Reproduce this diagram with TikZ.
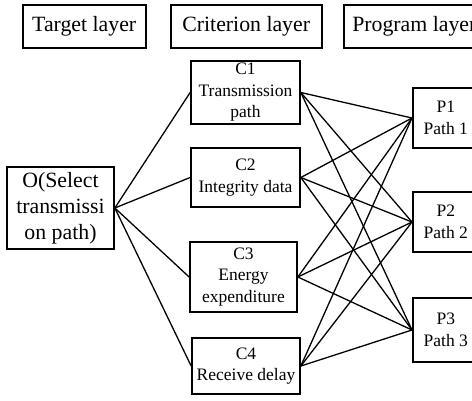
\documentclass[tikz,border=0pt]{standalone}
\usepackage{fontspec}
\setmainfont{Liberation Serif}
\begin{document}
\begin{tikzpicture}[x=1pt,y=-1pt,
  box/.style={draw,line width=1.7pt,rectangle,inner sep=0pt,align=center},
  big/.style={font=\fontsize{21.8}{26}\selectfont},
  small/.style={font=\fontsize{17.5}{21.5}\selectfont},
  link/.style={line width=1.3pt}]
\clip (0,0) rectangle (472,400);
\fill[white] (0,0) rectangle (472,400);
% headers
\node[box,big,minimum width=123pt,minimum height=43pt] (ht) at (84.2,26.5) {Target layer};
\node[box,big,minimum width=151pt,minimum height=43pt] (hc) at (246.2,26.5) {Criterion layer};
\node[box,big,minimum width=141pt,minimum height=43pt,anchor=west] (hp) at (343,26.5) {Program layer};
% target
\node[box,big,minimum width=107pt,minimum height=82pt] (O) at (60.5,208) {O(Select\\transmissi\\on path)};
% criteria
\node[box,small,minimum width=109pt,minimum height=63pt] (C1) at (245.5,92.5) {C1\\Transmission\\path};
\node[box,small,minimum width=109pt,minimum height=59pt] (C2) at (245.5,177.5) {C2\\Integrity data};
\node[box,small,minimum width=107pt,minimum height=70pt] (C3) at (243.5,277) {C3\\Energy\\expenditure};
\node[box,small,minimum width=108pt,minimum height=56pt] (C4) at (246,366) {C4\\Receive delay};
% programs
\node[box,small,minimum width=66pt,minimum height=60pt,anchor=west] (P1) at (412,118) {P1\\Path 1};
\node[box,small,minimum width=66pt,minimum height=60pt,anchor=west] (P2) at (412,222) {P2\\Path 2};
\node[box,small,minimum width=66pt,minimum height=64pt,anchor=west] (P3) at (412,330) {P3\\Path 3};
% links
\foreach \c in {C1,C2,C3,C4} {
  \draw[link] (O.east) -- (\c.west);
  \foreach \p in {P1,P2,P3} {
    \draw[link] (\c.east) -- (\p.west);
  }
}
\end{tikzpicture}
\end{document}
